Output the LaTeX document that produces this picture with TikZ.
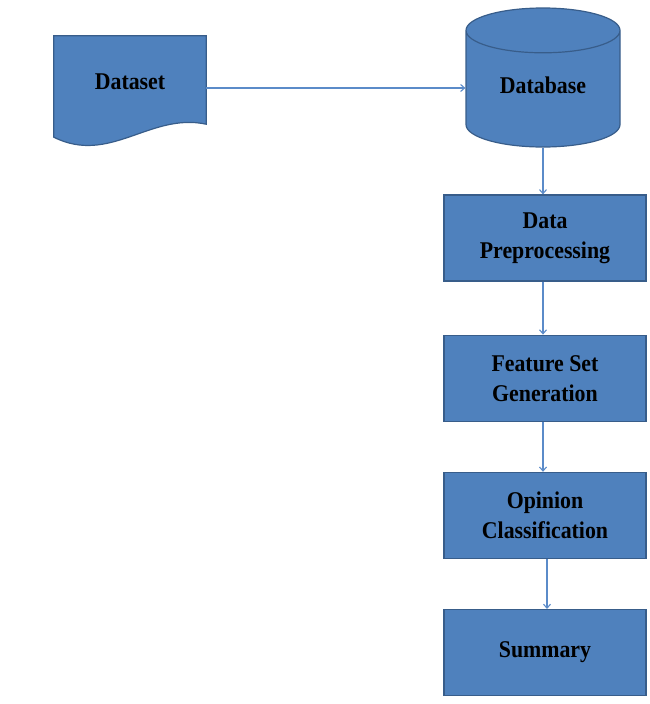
\documentclass[tikz,border=0pt]{standalone}
\usepackage{fontspec}
\setmainfont{Liberation Serif}[FakeStretch=0.91]
\usetikzlibrary{positioning, shapes.geometric, calc, arrows.meta}

\definecolor{boxblue}{HTML}{4F81BD}
\definecolor{boxedge}{HTML}{385D8A}
\definecolor{flowblue}{HTML}{5B8BC9}

\begin{document}
\begin{tikzpicture}[x=1pt, y=-1pt, node distance=50pt,
	stepbox/.style={draw=boxedge, fill=boxblue, line width=1.2pt, minimum width=202pt, minimum height=86pt, align=center, inner sep=0pt, font=\fontsize{24}{30}\selectfont\bfseries},
	flow/.style={draw=flowblue, line width=1.1pt, -{Straight Barb[length=4pt, width=7pt]}}]
	\useasboundingbox (0,0) rectangle (650,704);

	\node (dset) [minimum width=152pt, minimum height=88pt, inner sep=0pt] at (130,80) {};
	\draw [draw=boxedge, fill=boxblue, line width=1.2pt] (dset.north west) -- (dset.north east) -- (dset.south east)
		.. controls ($(dset.south east) + (-56,-12)$) and ($(dset.south west) + (56,41)$) .. ($(dset.south west) + (0,13)$) -- cycle;
	\path (dset) ++(0,2) node {\fontsize{24}{30}\selectfont\bfseries Dataset};

	\node (db) [cylinder, shape border rotate=90, aspect=0.52, draw=boxedge, fill=boxblue, line width=1.2pt, minimum width=154pt, minimum height=139pt, inner sep=0pt, font=\fontsize{24}{30}\selectfont\bfseries] at (543,89) {\raisebox{7pt}{Database}};

	\node (prep) [stepbox] at (545,238) {Data\\Preprocessing};
	\node (feat) [stepbox, below=53pt of prep] {Feature Set\\Generation};
	\node (opin) [stepbox, below=of feat] {Opinion\\Classification};
	\node (summ) [stepbox, below=of opin] {Summary};

	\draw [flow] ([yshift=-8pt]dset.east) -- ([yshift=-8pt]dset.east -| db.west);
	\draw [flow] (db.south -| 543,0) -- (prep.north -| 543,0);
	\draw [flow] (prep.south -| 543,0) -- (feat.north -| 543,0);
	\draw [flow] (feat.south -| 543,0) -- (opin.north -| 543,0);
	\draw [flow] (opin.south -| 547,0) -- (summ.north -| 547,0);

\end{tikzpicture}
\end{document}
